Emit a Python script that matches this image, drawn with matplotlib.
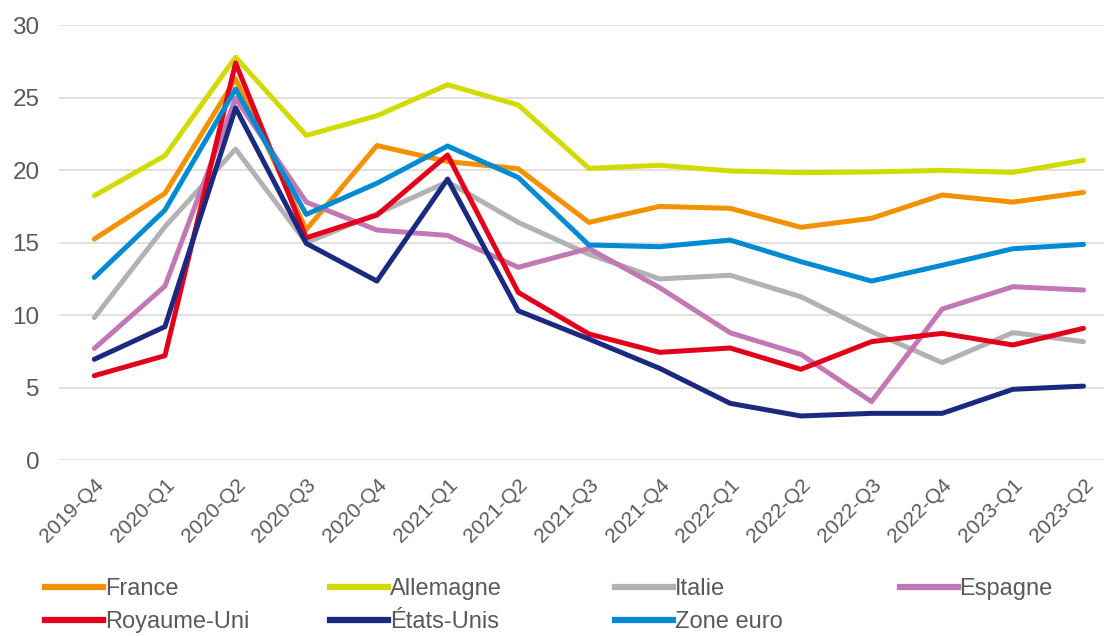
# ======================
# DONNEES
# ======================

import matplotlib
matplotlib.use("Agg")
import matplotlib.pyplot as plt
from matplotlib.lines import Line2D

trimestres = ["2019-Q4", "2020-Q1", "2020-Q2", "2020-Q3", "2020-Q4",
              "2021-Q1", "2021-Q2", "2021-Q3", "2021-Q4", "2022-Q1",
              "2022-Q2", "2022-Q3", "2022-Q4", "2023-Q1", "2023-Q2"]

france = [15.25, 18.4, 26.3, 15.9, 21.7, 20.6, 20.1, 16.4, 17.5, 17.37,
          16.06, 16.68, 18.29, 17.8, 18.47]
allemagne = [18.24, 21.0, 27.8, 22.4, 23.76, 25.9, 24.5, 20.13, 20.34, 19.95,
             19.83, 19.88, 19.99, 19.85, 20.68]
italie = [9.82, 16.1, 21.46, 15.0, 17.0, 19.2, 16.4, 14.2, 12.5, 12.75,
          11.27, 8.86, 6.72, 8.79, 8.17]
espagne = [7.7, 12.0, 24.96, 17.8, 15.87, 15.5, 13.3, 14.6, 11.9, 8.78,
           7.29, 4.03, 10.42, 11.96, 11.73]
royaume_uni = [5.82, 7.2, 27.4, 15.34, 16.9, 21.05, 11.57, 8.7, 7.43, 7.73,
               6.26, 8.17, 8.74, 7.94, 9.09]
etats_unis = [6.95, 9.2, 24.3, 14.95, 12.35, 19.39, 10.3, 8.35, 6.33, 3.91,
              3.04, 3.22, 3.22, 4.88, 5.1]
zone_euro = [12.6, 17.25, 25.6, 16.95, 19.1, 21.67, 19.5, 14.84, 14.72, 15.18,
             13.69, 12.35, 13.44, 14.58, 14.88]

series = [
    ("France", france, "#F39200"),
    ("Allemagne", allemagne, "#D2DB00"),
    ("Italie", italie, "#B2B2B2"),
    ("Espagne", espagne, "#C278B4"),
    ("Royaume-Uni", royaume_uni, "#E2001A"),
    ("États-Unis", etats_unis, "#1B2A80"),
    ("Zone euro", zone_euro, "#008BD2"),
]

# ======================
# GRAPHIQUE
# ======================

plt.rcParams["font.family"] = ["Liberation Sans", "DejaVu Sans"]
gris_texte = "#595959"

fig = plt.figure(figsize=(11.04, 6.36), dpi=100)
ax = fig.add_axes([0.0534, 0.2767, 0.9466, 0.6835])

x = list(range(len(trimestres)))
lignes = {}
for nom, valeurs, couleur in series:
    l, = ax.plot(x, valeurs, color=couleur, lw=3.6,
                 solid_capstyle="round", solid_joinstyle="round", zorder=3)
    lignes[nom] = l

ax.set_ylim(0, 30)
ax.set_yticks(range(0, 31, 5))
ax.set_xlim(-0.5, 14.29)
ax.set_xticks(x)
ax.set_xticklabels(trimestres, rotation=45, ha="right", va="top",
                   rotation_mode="anchor")

ax.grid(axis="y", color="#D9D9D9", lw=1.1, zorder=0)
ax.set_axisbelow(True)
for s in ax.spines.values():
    s.set_visible(False)
ax.tick_params(axis="both", length=0, colors=gris_texte)
ax.tick_params(axis="y", labelsize=17.5, pad=14)
ax.tick_params(axis="x", labelsize=15, pad=11)

# legende : 4 colonnes, espacement regulier
colonnes = [["France", "Royaume-Uni"], ["Allemagne", "États-Unis"],
            ["Italie", "Zone euro"], ["Espagne"]]
for i, noms in enumerate(colonnes):
    handles = [Line2D([], [], color=lignes[n].get_color(), lw=4.5) for n in noms]
    leg = fig.legend(handles, noms, loc="upper left",
                     bbox_to_anchor=(0.0408 + i * 0.258, 0.0905),
                     bbox_transform=fig.transFigure, frameon=False,
                     fontsize=17, handlelength=2.46, handletextpad=0.08,
                     borderpad=0, borderaxespad=0, labelspacing=0.45)
    for t in leg.get_texts():
        t.set_color(gris_texte)

fig.savefig("out.png", dpi=100)
